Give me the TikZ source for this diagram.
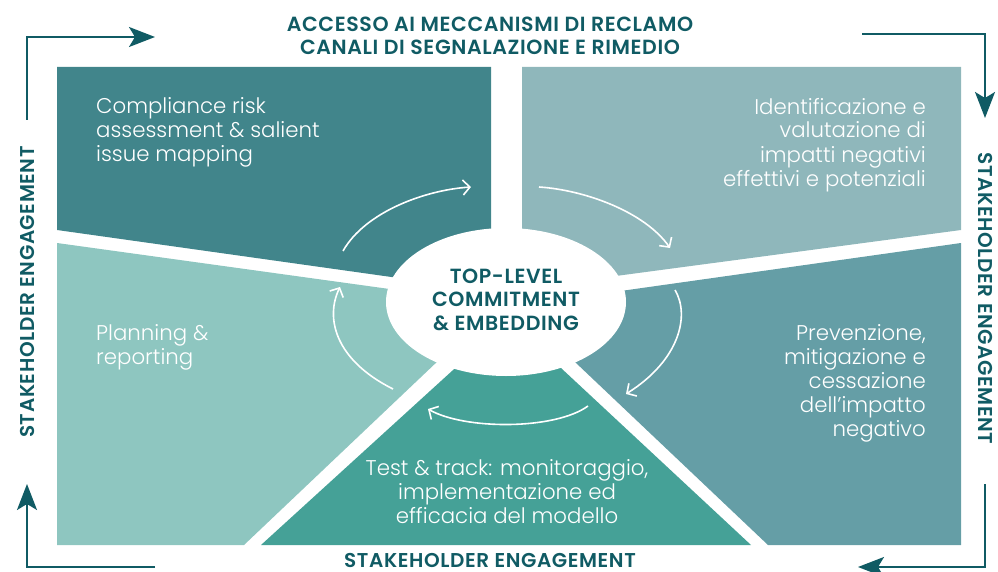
\documentclass[tikz,border=0pt]{standalone}
\usepackage{fontspec}
\setmainfont{Poppins}
\newfontfamily\lightfont{Poppins Light}
\newfontfamily\capsfont{Poppins SemiBold}[LetterSpace=3]
\usetikzlibrary{arrows.meta}
\definecolor{ctitle}{RGB}{16,91,100}
\definecolor{cTL}{RGB}{65,133,139}
\definecolor{cTR}{RGB}{143,183,187}
\definecolor{cL}{RGB}{142,198,192}
\definecolor{cR}{RGB}{101,158,166}
\definecolor{cB}{RGB}{69,161,151}
\begin{document}
\begin{tikzpicture}[x=1pt,y=-1pt,
  paneltext/.style={text=white,inner sep=0pt,font={\lightfont\fontsize{21.3}{24}\selectfont}},
  headtext/.style={text=ctitle,inner sep=0pt,font={\capsfont\fontsize{20.5}{23.5}\selectfont}},
  sidetext/.style={text=ctitle,inner sep=0pt,font={\capsfont\fontsize{20}{20}\selectfont}},
  outerarrow/.style={draw=ctitle,line width=2pt,-{Stealth[length=26pt,width=20pt,inset=6pt]}},
  ringarrow/.style={draw=white,line width=1.6pt,-{Straight Barb[length=7pt,width=15pt]}}]
\useasboundingbox (0,0) rectangle (998,572);
% panels
\fill[cTL] (57,67) -- (491,67) -- (491,291) -- (57,230) -- cycle;
\fill[cTR] (522,67) -- (961,67) -- (961,230) -- (522,288.5) -- cycle;
\fill[cL] (57,243) -- (498,304) -- (244,545) -- (57,545) -- cycle;
\fill[cB] (261,545) -- (508.7,319.3) -- (751,545) -- cycle;
\fill[cR] (961,243) -- (515.7,305.8) -- (768,545) -- (961,545) -- cycle;
\fill[white] (506,302) ellipse [x radius=120, y radius=74];
% center text
\node[headtext,align=center,anchor=base] (core) at (506,330) {TOP-LEVEL\\COMMITMENT\\\& EMBEDDING};
% title
\node[headtext,align=center,anchor=base] (title) at (490,55) {ACCESSO AI MECCANISMI DI RECLAMO\\CANALI DI SEGNALAZIONE E RIMEDIO};
% side labels
\node[sidetext,rotate=90] (sl) at (27,292) {STAKEHOLDER ENGAGEMENT};
\node[sidetext,rotate=-90] (sr) at (985,298.5) {STAKEHOLDER ENGAGEMENT};
\node[sidetext,anchor=base] (sb) at (490,567) {STAKEHOLDER ENGAGEMENT};
% panel texts
\node[paneltext,align=left,anchor=base west] (tTL) at (96,162) {Compliance risk\\assessment \& salient\\issue mapping};
\node[paneltext,align=right,anchor=base east] (tTR) at (926,186) {Identificazione e\\valutazione di\\impatti negativi\\effettivi e potenziali};
\node[paneltext,align=left,anchor=base west] (tL) at (96,364) {Planning \&\\reporting};
\node[paneltext,align=right,anchor=base east] (tR) at (926,436) {Prevenzione,\\mitigazione e\\cessazione\\dell’impatto\\negativo};
\node[paneltext,align=center,anchor=base] (tB) at (507,523) {Test \& track: monitoraggio,\\implementazione ed\\efficacia del modello};
% outer arrows
\coordinate (a1s) at (27,120); \coordinate (a1c) at (27,37); \coordinate (a1e) at (155,37);
\coordinate (a2s) at (862,34); \coordinate (a2c) at (985,34); \coordinate (a2e) at (985,118);
\coordinate (a3s) at (985,484); \coordinate (a3c) at (985,567); \coordinate (a3e) at (858,567);
\coordinate (a4s) at (155,567); \coordinate (a4c) at (27,567); \coordinate (a4e) at (27,484);
\draw[outerarrow] (a1s) -- (a1c) -- (a1e);
\draw[outerarrow] (a2s) -- (a2c) -- (a2e);
\draw[outerarrow] (a3s) -- (a3c) -- (a3e);
\draw[outerarrow] (a4s) -- (a4c) -- (a4e);
% ring arrows
\coordinate (r1s) at (343,251); \coordinate (r1e) at (471,187);
\coordinate (r2s) at (539,187); \coordinate (r2e) at (670,248);
\coordinate (r3s) at (675,290); \coordinate (r3e) at (626,394);
\coordinate (r4s) at (588,406); \coordinate (r4e) at (428,409);
\coordinate (r5s) at (393,389); \coordinate (r5e) at (340,287);
\draw[ringarrow] (r1s) .. controls (365,212) and (425,190) .. (r1e);
\draw[ringarrow] (r2s) .. controls (585,190) and (645,212) .. (r2e);
\draw[ringarrow] (r3s) .. controls (690,315) and (680,360) .. (r3e);
\draw[ringarrow] (r4s) .. controls (555,430) and (465,430) .. (r4e);
\draw[ringarrow] (r5s) .. controls (335,360) and (325,318) .. (r5e);
\end{tikzpicture}
\end{document}
